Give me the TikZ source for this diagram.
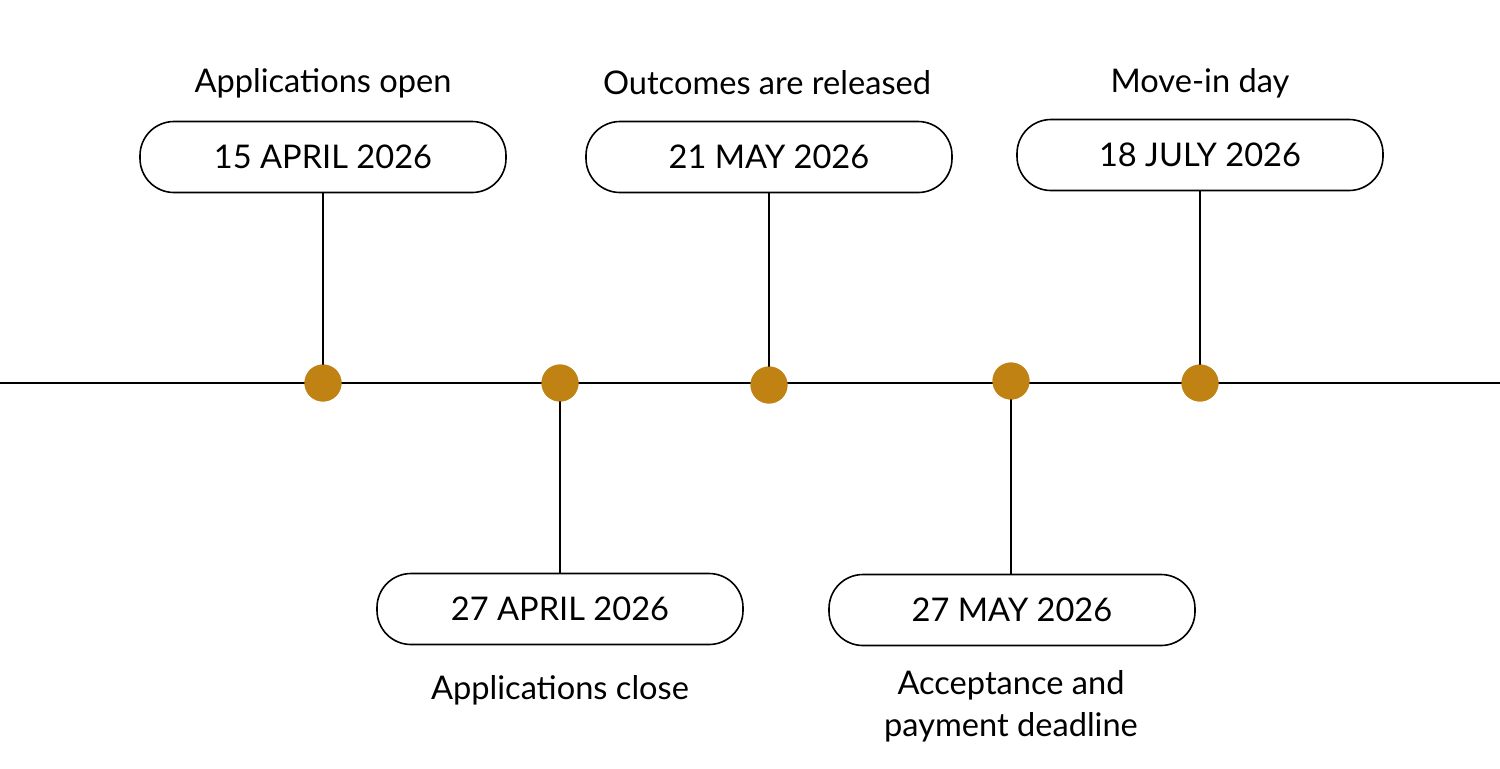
\documentclass[tikz,border=0pt]{standalone}
\usepackage{fontspec}
\setmainfont{Lato}
\definecolor{dotc}{HTML}{BF8213}
\begin{document}
\begin{tikzpicture}[x=0.5pt,y=-0.5pt,
  box/.style={draw,line width=0.8pt,rounded corners=17pt,minimum width=183pt,minimum height=35.5pt,font=\fontsize{16.3}{18}\selectfont},
  lab/.style={font=\fontsize{16.3}{21}\selectfont,align=center},
  dot/.style={circle,fill=dotc,inner sep=0pt,minimum size=18.5pt},
  ln/.style={line width=1pt}]
\useasboundingbox (0,0) rectangle (1500,768);
\coordinate (L) at (0,383); \coordinate (R) at (1500,383);
\draw[ln] (L) -- (R);
\node[box] (b1) at (323,157) {15 APRIL 2026};
\node[box] (b2) at (560,609) {27 APRIL 2026};
\node[box] (b3) at (769,157) {21 MAY 2026};
\node[box] (b4) at (1012,610) {27 MAY 2026};
\node[box] (b5) at (1200,155) {18 JULY 2026};
\node[dot] (d1) at (323,383) {};
\node[dot] (d2) at (560,383) {};
\node[dot] (d3) at (769,385) {};
\node[dot] (d4) at (1011,381) {};
\node[dot] (d5) at (1200,383) {};
\draw[ln] (b1) -- (d1.center);
\draw[ln] (b2) -- (d2.center);
\draw[ln] (b3) -- (d3.center);
\draw[ln] (d4.center) -- (d4.center |- b4.north);
\draw[ln] (b5) -- (d5.center);
\node[dot] at (d1) {};\node[dot] at (d2) {};\node[dot] at (d3) {};\node[dot] at (d4) {};\node[dot] at (d5) {};
\node[lab] (t1) at (323,83) {Applications open};
\node[lab] (t3) at (767,83) {Outcomes are released};
\node[lab] (t5) at (1200,83) {Move-in day};
\node[lab] (t2) at (560,690) {Applications close};
\node[lab] (t4) at (1011,706) {Acceptance and\\payment deadline};
\end{tikzpicture}
\end{document}
